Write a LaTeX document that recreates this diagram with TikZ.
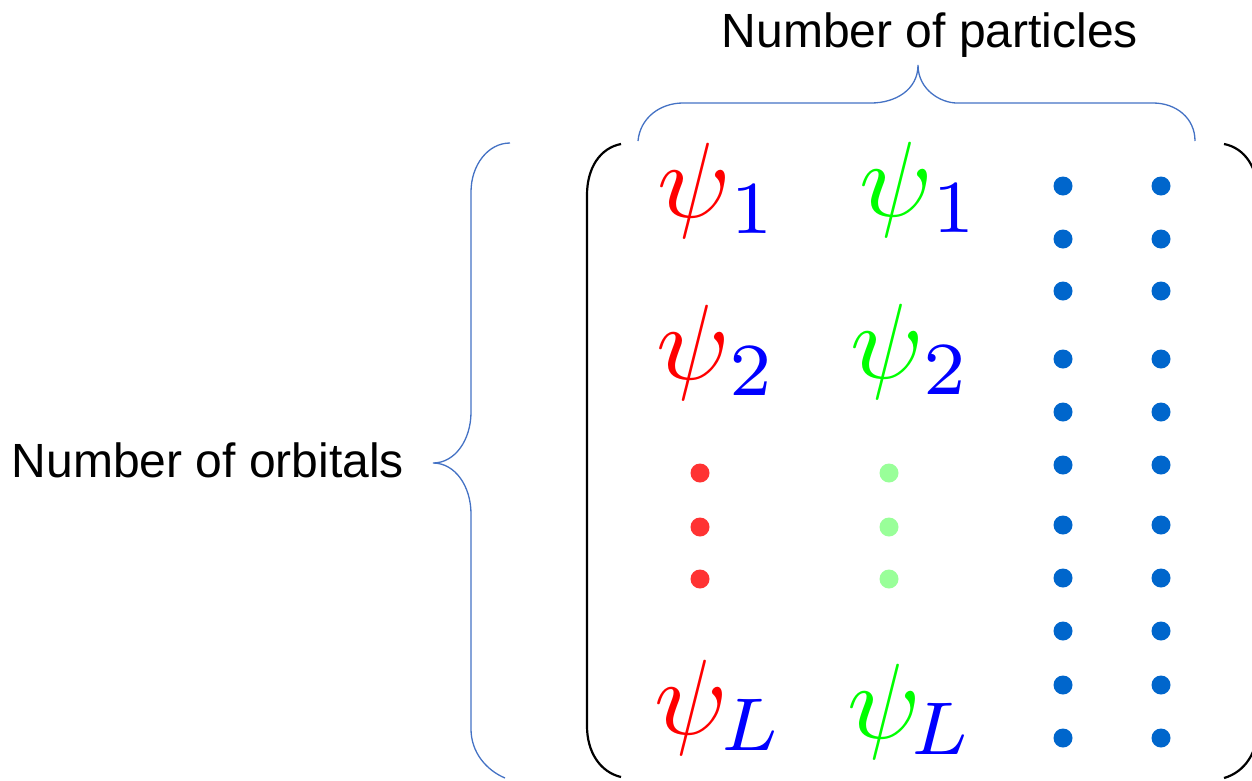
\documentclass[tikz,border=0pt]{standalone}
\usepackage{fontspec}
\newfontfamily\labfont{Liberation Sans}
\definecolor{braceblue}{HTML}{4472C4}
\definecolor{dotred}{HTML}{FF3333}
\definecolor{dotgreen}{HTML}{99FF99}
\definecolor{dotblue}{HTML}{0066CC}
\newcommand\psiR[1]{$\textcolor{red}{\psi}_{\textcolor{blue}{#1}}$}
\newcommand\psiG[1]{$\textcolor{green}{\psi}_{\textcolor{blue}{#1}}$}
\tikzset{
  psinode/.style={inner sep=0pt, anchor=base west, scale=10.7},
  lab/.style={inner sep=0pt, anchor=base, font=\labfont\fontsize{48}{56}\selectfont},
  bracepath/.style={draw=braceblue, line width=1.3pt},
  parenpath/.style={draw=black, line width=2.2pt},
  dotnode/.style={circle, inner sep=0pt, minimum size=19pt},
}
\begin{document}
\begin{tikzpicture}[x=1pt,y=-1pt]
\useasboundingbox (0,0) rectangle (1252,780);
% labels
\node[lab] (particles) at (930,47) {Number of particles};
\node[lab] (orbitals) at (208,477) {Number of orbitals};
% top brace
\path[bracepath] (638,141) .. controls (640,118) and (660,103) .. (683,103)
  -- (871,103) .. controls (895,103) and (918,90) .. (918,65)
  .. controls (918,90) and (941,103) .. (957,103)
  -- (1153,103) .. controls (1176,103) and (1195,118) .. (1195,141);
% left brace
\path[bracepath] (510,143) .. controls (488,143) and (471,165) .. (471,192)
  -- (471,412) .. controls (471,440) and (455,463) .. (433,463)
  .. controls (455,463) and (471,486) .. (471,514)
  -- (471,729) .. controls (471,752) and (486,770) .. (505,778);
% parentheses
\path[parenpath] (621,144) .. controls (600,148) and (587,168) .. (587,195)
  -- (587,726) .. controls (587,752) and (600,772) .. (621,777);
\path[parenpath] (1224,144) .. controls (1245,148) and (1258,168) .. (1258,195)
  -- (1258,726) .. controls (1258,752) and (1245,772) .. (1224,778);
% psi entries
\node[psinode] (r1) at (655,217) {\psiR{1}};
\node[psinode] (r2) at (654,379) {\psiR{2}};
\node[psinode] (rL) at (652,734) {\psiR{\mkern-1.5mu L}};
\node[psinode] (g1) at (857,216) {\psiG{1}};
\node[psinode] (g2) at (848,378) {\psiG{2}};
\node[psinode] (gL) at (845,738) {\psiG{\mkern-2mu L}};
% red and green dots
\foreach \y [count=\i] in {473,527,579} {
  \node[dotnode, fill=dotred] (rd\i) at (700,\y) {};
  \node[dotnode, fill=dotgreen] (gd\i) at (889,\y) {};
}
% blue dots
\foreach \y [count=\i] in {186,239,291,359,412,465,525,578,631,685,738} {
  \node[dotnode, fill=dotblue] (ba\i) at (1063,\y) {};
  \node[dotnode, fill=dotblue] (bb\i) at (1161,\y) {};
}
\end{tikzpicture}
\end{document}
